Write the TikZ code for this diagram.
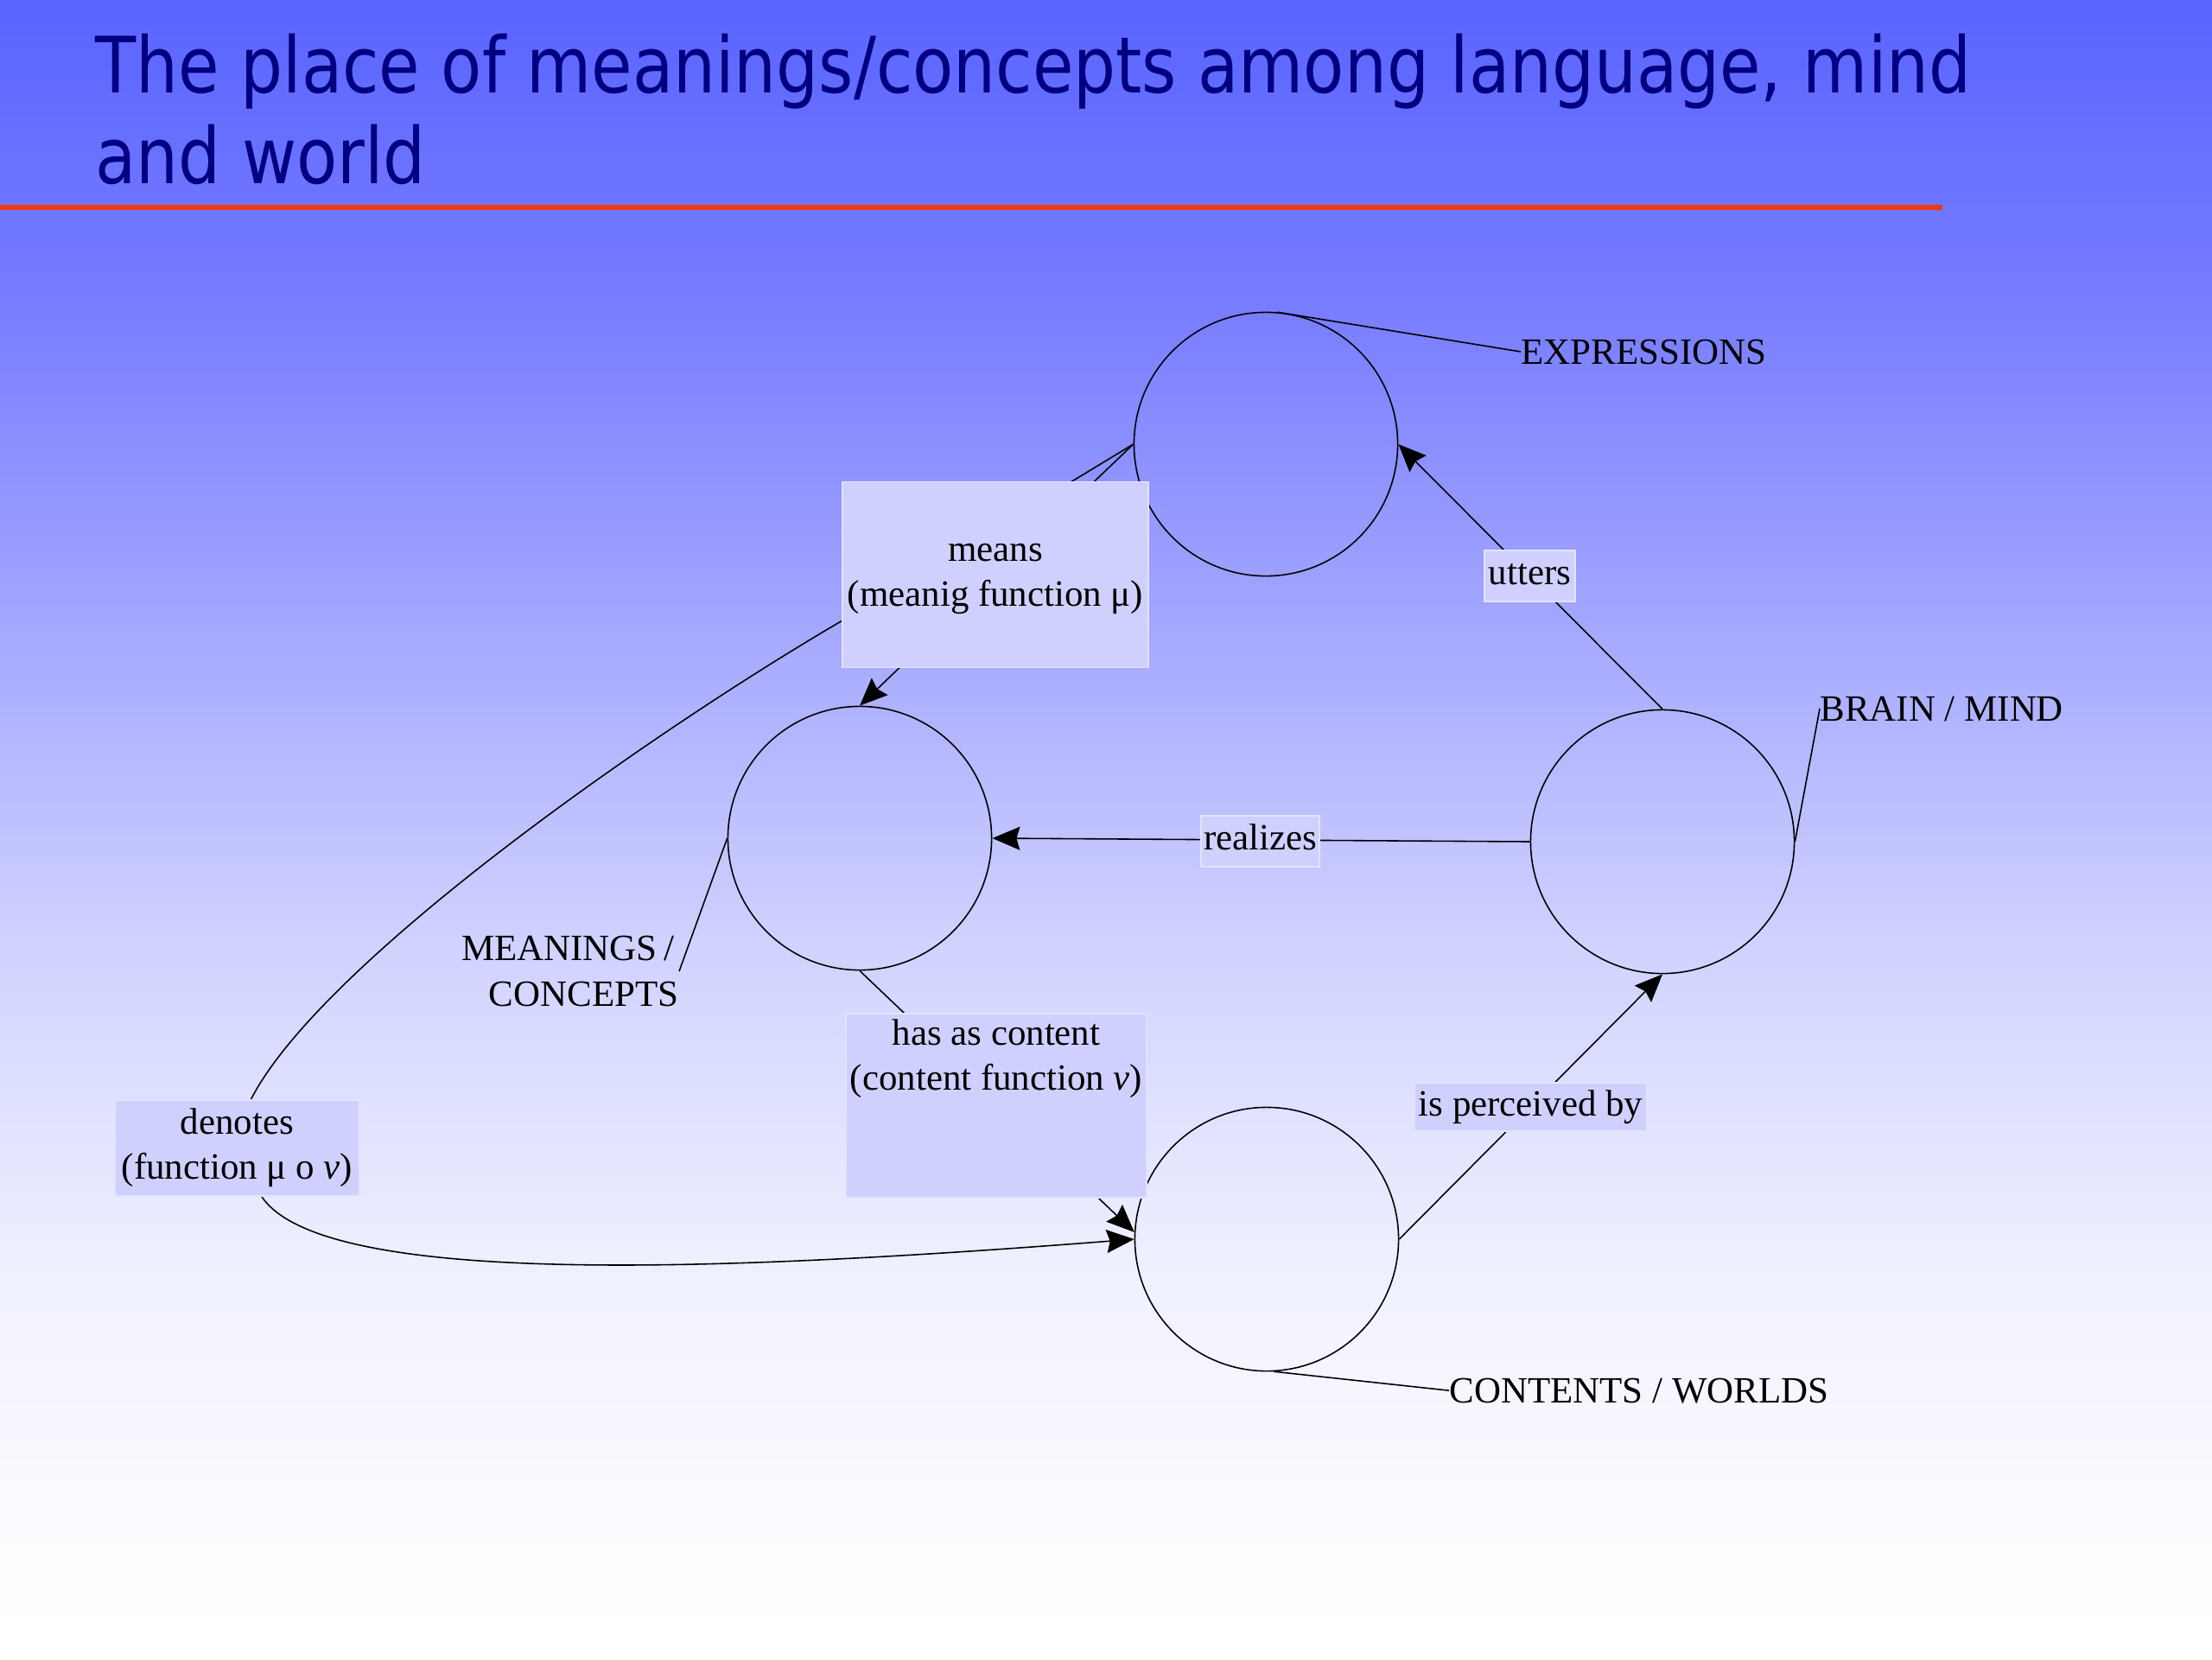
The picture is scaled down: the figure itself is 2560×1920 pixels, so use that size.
\documentclass[tikz,border=0pt]{standalone}
\usepackage{fontspec}
\setmainfont{Liberation Serif}
\newfontfamily\titlefam[FakeStretch=0.857]{DejaVu Sans}
\usetikzlibrary{arrows.meta}
\definecolor{titleblue}{RGB}{0,0,128}
\definecolor{redline}{RGB}{240,56,20}
\definecolor{boxfill}{RGB}{208,208,255}
\definecolor{boxline}{RGB}{226,228,255}
\pgfdeclarelayer{bglayer}
\pgfdeclarelayer{edgelayer}
\pgfsetlayers{bglayer,edgelayer,main}
\pgfdeclareverticalshading{slidebg}{100bp}{rgb(0bp)=(1,1,1); rgb(25bp)=(1,1,1); rgb(27.5bp)=(0.996,0.996,1); rgb(36.5bp)=(0.941,0.945,1); rgb(46.5bp)=(0.816,0.824,1); rgb(56bp)=(0.647,0.659,1); rgb(65.5bp)=(0.471,0.494,1); rgb(75bp)=(0.353,0.392,1); rgb(100bp)=(0.353,0.392,1)}
\newcommand\lblfont{\fontsize{12.2pt}{14.8pt}\selectfont}
\newcommand\ttlfont{\titlefam\fontsize{25.6pt}{29.9pt}\selectfont}
\begin{document}
\begin{tikzpicture}[x=0.01cm,y=-0.01cm,
  circ/.style={circle,draw=black,line width=0.45pt,minimum size=3.05cm,inner sep=0pt},
  lblbox/.style={fill=boxfill,draw=boxline,line width=0.5pt,inner sep=0pt,align=center,font=\lblfont,text=black},
  outlbl/.style={inner sep=0pt,font=\lblfont,text=black},
  ttl/.style={inner sep=0pt,font=\ttlfont,text=titleblue,anchor=base west},
  conn/.style={draw=black,line width=0.45pt},
  arr/.style={conn,-{Stealth[length=0.32cm,width=0.27cm,inset=0.04cm]}}]
\begin{pgfonlayer}{bglayer}
\shade[shading=slidebg] (0,0) rectangle (2560,1920);
\end{pgfonlayer}
\useasboundingbox (0,0) rectangle (2560,1920);
% title
\node[ttl] (t1) at (110,107) {The place of meanings/concepts among language, mind};
\node[ttl] (t2) at (110,212) {and world};
\draw[redline,line width=0.06cm] (0,240) coordinate (rl1) -- (2248,240) coordinate (rl2);
% circles
\node[circ] (E) at (1465,514) {};
\node[circ] (M) at (995,970) {};
\node[circ] (B) at (1924,974) {};
\node[circ] (C) at (1466,1434) {};
% outer labels
\node[outlbl,anchor=base west] (expr) at (1760,421) {EXPRESSIONS};
\node[outlbl,anchor=base west] (brain) at (2106,834) {BRAIN / MIND};
\node[outlbl,anchor=east,align=right] (mc) at (786,1124) {MEANINGS\hspace{0.18em}/\kern0.12em\\CONCEPTS};
\node[outlbl,anchor=base west] (cw) at (1677,1623) {CONTENTS / WORLDS};
% edge label boxes
\node[lblbox,minimum width=3.54cm,minimum height=2.15cm] (means) at (1152,665) {\strut means\\\strut(meanig function μ)};
\node[lblbox] (hac) at (1153,1279.5) {\parbox[c][2.13cm][t]{3.48cm}{\centering\strut has as content\\\strut(content function \textit{v})}};
\node[lblbox,minimum width=2.83cm,minimum height=1.11cm] (denotes) at (274.5,1328.5) {\strut denotes\\\strut(function μ o \textit{v})};
\node[lblbox,minimum width=1.05cm,minimum height=0.59cm] (utters) at (1770.5,666.5) {\strut utters};
\node[lblbox,minimum width=1.37cm,minimum height=0.59cm] (realizes) at (1458.5,973.5) {\strut realizes};
\node[lblbox,minimum width=2.69cm,minimum height=0.56cm] (perc) at (1771.5,1281) {\strut is perceived by};
\coordinate (dbend) at (975,718);
\begin{pgfonlayer}{edgelayer}
\draw[conn] (E.85) -- (expr.west);
\draw[conn] (B.east) -- (brain.west);
\draw[conn] (M.west) -- (mc.east);
\draw[conn] (C.-87) -- (cw.west);
\draw[arr] (E.west) -- (M.north);
\draw[conn] (E.west) -- (dbend) .. controls (759,844) and (372,1113) .. ([xshift=0.16cm]denotes.north);
\draw[arr] ([xshift=0.285cm]denotes.south) .. controls (375,1492) and (850,1470) .. (C.west);
\draw[arr] (M.south) -- (C.177);
\draw[arr] (B.west) -- (M.east);
\draw[arr] (B.north) -- (E.east);
\draw[arr] (C.east) -- (B.south);
\end{pgfonlayer}
\end{tikzpicture}
\end{document}
